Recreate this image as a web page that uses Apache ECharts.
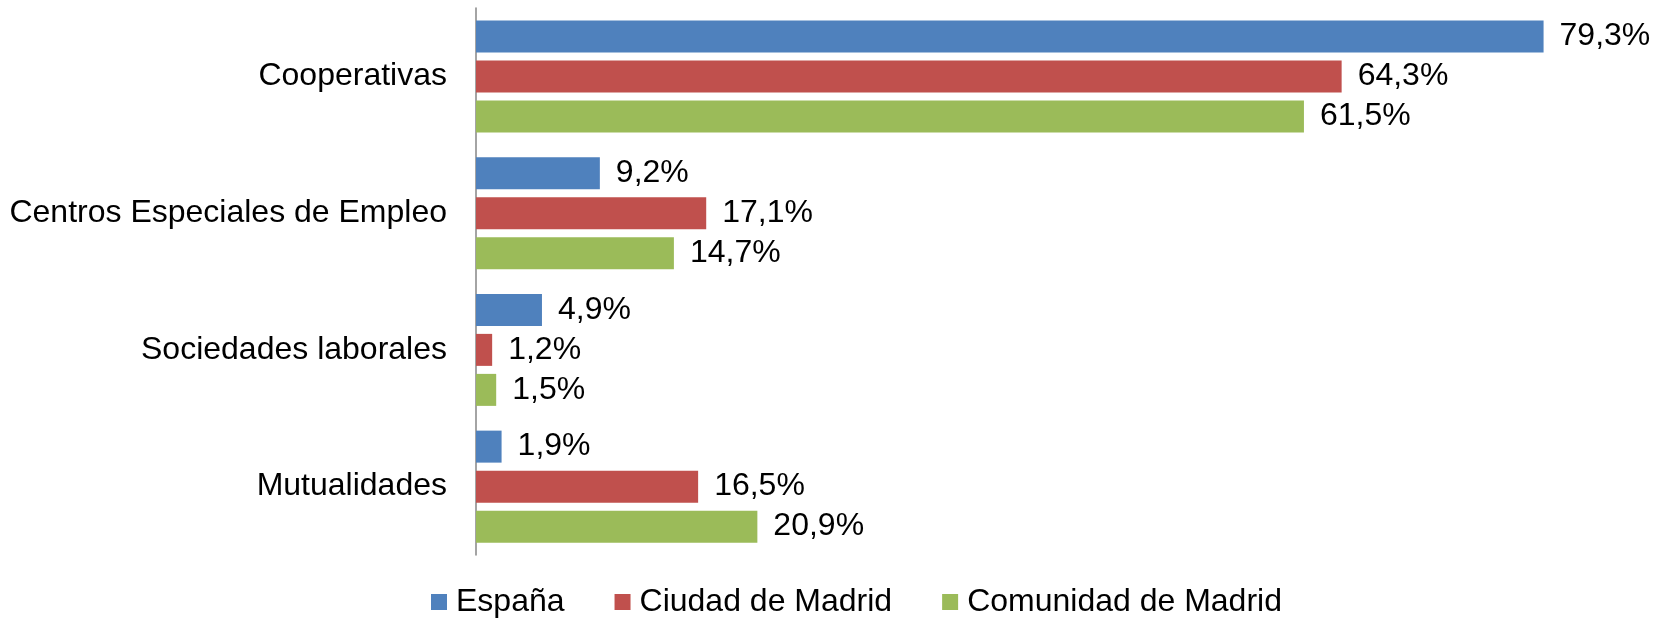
<!DOCTYPE html>
<html>
<head>
<meta charset="utf-8">
<script src="https://cdn.jsdelivr.net/npm/echarts@6/dist/echarts.min.js"></script>
<style>html,body{margin:0;padding:0;background:#fff;}#c{width:1664px;height:618px;}</style>
</head>
<body>
<div id="c"></div>
<script>
const categories = ['Cooperativas', 'Centros Especiales de Empleo', 'Sociedades laborales', 'Mutualidades'];
const seriesNames = ['España', 'Ciudad de Madrid', 'Comunidad de Madrid'];
const espana = [79.3, 9.2, 4.9, 1.9];
const ciudadMadrid = [64.3, 17.1, 1.2, 16.5];
const comunidadMadrid = [61.5, 14.7, 1.5, 20.9];
const colors = ['#4F81BD', '#C0504D', '#9BBB59'];

const FONT = 'Liberation Sans, Arial, sans-serif';
const chart = echarts.init(document.getElementById('c'), null, {renderer: 'canvas'});
const values = [espana, ciudadMadrid, comunidadMadrid];
chart.setOption({
  animation: false,
  backgroundColor: '#ffffff',
  textStyle: {fontFamily: FONT},
  grid: {left: 476, top: 8, bottom: 63, right: 111, containLabel: false},
  xAxis: {type: 'value', min: 0, max: 80, show: false, splitLine: {show: false}},
  yAxis: {
    type: 'category', data: categories, inverse: true,
    axisLine: {show: true, lineStyle: {color: '#868686', width: 1.5}},
    axisTick: {show: false},
    axisLabel: {color: '#000', fontSize: 32, fontFamily: FONT, margin: 29}
  },
  legend: {
    data: seriesNames, left: 426, top: 581, icon: 'rect', itemWidth: 16, itemHeight: 16,
    itemGap: 50,
    textStyle: {color: '#000', fontSize: 32, fontFamily: FONT, lineHeight: 32, padding: [0, 0, 0, 4]}
  },
  series: values.map((v, i) => ({
    name: seriesNames[i], type: 'bar', data: v, barWidth: 32, barGap: '25%',
    itemStyle: {color: colors[i]},
    label: {show: true, position: 'right', distance: 16, color: '#000', fontSize: 32, fontFamily: FONT,
      formatter: p => p.value.toFixed(1).replace('.', ',') + '%'}
  }))
});
</script>
</body>
</html>
